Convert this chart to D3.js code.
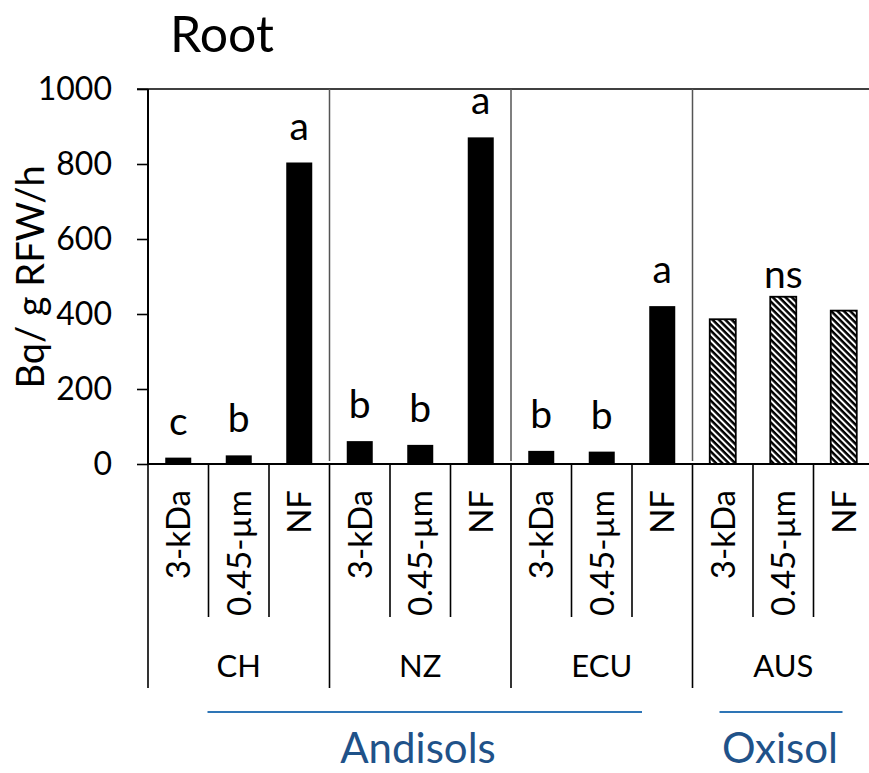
<!DOCTYPE html>
<html>
<head>
<meta charset="utf-8">
<script src="https://cdn.jsdelivr.net/npm/d3@7"></script>
<style>
  html, body { margin: 0; padding: 0; background: #fff; }
  svg { display: block; font-family: Lato, "Open Sans", sans-serif; }
</style>
</head>
<body>
<svg id="chart" width="869" height="773"></svg>
<script>
// ---- data ----
const groups = ["CH", "NZ", "ECU", "AUS"];
const filters = ["3-kDa", "0.45-µm", "NF"];
const valuesCH  = [17, 23, 804];
const valuesNZ  = [61, 51, 871];
const valuesECU = [35, 33, 421];
const valuesAUS = [386, 446, 409];
const lettersCH  = ["c", "b", "a"];
const lettersNZ  = ["b", "b", "a"];
const lettersECU = ["b", "b", "a"];
const lettersAUS = ["", "ns", ""];
const hatchedGroups = ["AUS"];
const yTicks = [0, 200, 400, 600, 800, 1000];
const soilOrders = ["Andisols", "Oxisol"];
const soilOrderGroups = [["CH", "NZ", "ECU"], ["AUS"]];
const title = "Root";
const yLabel = "Bq/ g RFW/h";

(function () {
const allValues = [valuesCH, valuesNZ, valuesECU, valuesAUS];
const allLetters = [lettersCH, lettersNZ, lettersECU, lettersAUS];
const rows = [];
groups.forEach((g, gi) => filters.forEach((f, fi) => rows.push({
  group: g, filter: f, key: g + "|" + f,
  value: allValues[gi][fi], letter: allLetters[gi][fi],
  hatched: hatchedGroups.includes(g)
})));

// ---- layout ----
const svg = d3.select("#chart");
const W = 869;
const mLeft = 148, bandW = 60.5;
const mTop = 89, mBottom = 464;
const x = d3.scaleBand().domain(rows.map(d => d.key)).range([mLeft, mLeft + bandW * rows.length]).padding(0);
const y = d3.scaleLinear().domain([0, 1000]).range([mBottom, mTop]);
const barW = 26;
const black = "#000";

// hatch pattern
const defs = svg.append("defs");
const pat = defs.append("pattern").attr("id", "hatch").attr("patternUnits", "userSpaceOnUse")
  .attr("width", 8).attr("height", 4.5).attr("patternTransform", "rotate(45)");
pat.append("rect").attr("width", 8).attr("height", 4.5).attr("fill", "#fff");
pat.append("rect").attr("y", 0).attr("width", 8).attr("height", 2.5).attr("fill", "#000");

// title
svg.append("text").attr("x", 170).attr("y", 52).attr("font-size", 50).attr("fill", black).text(title);

// y axis label
svg.append("text").attr("transform", "translate(44,277) rotate(-90)")
  .attr("text-anchor", "middle").attr("font-size", 38).attr("fill", black)
  .text(yLabel);

// top line at max
svg.append("line").attr("x1", mLeft - 11).attr("x2", W).attr("y1", y(1000)).attr("y2", y(1000))
  .attr("stroke", black).attr("stroke-width", 1.6);

// in-plot group separators
const groupStarts = groups.map(g => x(g + "|" + filters[0]));
groupStarts.slice(1).forEach(gx => {
  svg.append("line").attr("x1", gx).attr("x2", gx).attr("y1", y(1000)).attr("y2", mBottom - 3)
    .attr("stroke", "#555").attr("stroke-width", 1.5);
});

// bars
svg.append("g").selectAll("rect").data(rows).join("rect")
  .attr("x", d => x(d.key) + (x.bandwidth() - barW) / 2)
  .attr("width", barW)
  .attr("y", d => y(d.value))
  .attr("height", d => y(0) - y(d.value))
  .attr("fill", d => d.hatched ? "url(#hatch)" : black)
  .attr("stroke", black)
  .attr("stroke-width", d => d.hatched ? 1.8 : 0);

// significance letters
svg.append("g").selectAll("text").data(rows.filter(d => d.letter)).join("text")
  .attr("x", d => x(d.key) + x.bandwidth() / 2)
  .attr("y", d => y(d.value) - (d.hatched ? 9 : 23))
  .attr("text-anchor", "middle").attr("font-size", 39).attr("fill", black)
  .text(d => d.letter);

// y axis
const yAxis = d3.axisLeft(y).tickValues(yTicks).tickSize(11).tickPadding(25).tickFormat(d3.format("d"));
const gy = svg.append("g").attr("transform", `translate(${mLeft},0)`).call(yAxis);
gy.select(".domain").remove();
gy.selectAll(".tick line").attr("stroke", black).attr("stroke-width", 1.6);
gy.selectAll(".tick text").attr("font-size", 32).attr("font-family", "Lato, sans-serif").attr("fill", black);
svg.append("line").attr("x1", mLeft).attr("x2", mLeft).attr("y1", mTop).attr("y2", mBottom)
  .attr("stroke", black).attr("stroke-width", 2);

// x axis line
svg.append("line").attr("x1", mLeft).attr("x2", W).attr("y1", mBottom).attr("y2", mBottom)
  .attr("stroke", black).attr("stroke-width", 2);

// category separators below axis
rows.forEach((d, i) => {
  const xb = x(d.key);
  const isGroup = i % filters.length === 0;
  svg.append("line").attr("x1", xb).attr("x2", xb).attr("y1", mBottom).attr("y2", isGroup ? 688 : 617)
    .attr("stroke", black).attr("stroke-width", 1.6);
});
{
  const xe = x.range()[1];
  svg.append("line").attr("x1", xe).attr("x2", xe).attr("y1", mBottom).attr("y2", 688)
    .attr("stroke", black).attr("stroke-width", 1.6);
}

// rotated filter labels
const fsCat = 33;
svg.append("g").selectAll("text").data(rows).join("text")
  .attr("transform", d => `translate(${x(d.key) + x.bandwidth() / 2 + fsCat * 0.36},490) rotate(-90)`)
  .attr("text-anchor", "end").attr("font-size", fsCat).attr("fill", black)
  .text(d => d.filter);

// group labels
svg.append("g").selectAll("text").data(groups).join("text")
  .attr("x", g => x(g + "|" + filters[1]) + x.bandwidth() / 2)
  .attr("y", 677)
  .attr("text-anchor", "middle").attr("font-size", 31).attr("fill", black)
  .text(g => g);

// soil order lines and labels
const lineCol = "#2E75B6", textCol = "#1F5289";
const soilSpans = [
  [x(soilOrderGroups[0][0] + "|" + filters[1]) - 1, x(soilOrderGroups[0][2] + "|" + filters[2]) + 10],
  [x(soilOrderGroups[1][0] + "|" + filters[0]) + 27, x(soilOrderGroups[1][0] + "|" + filters[2]) + 29]
];
const soilTextX = [418, 780];
soilOrders.forEach((s, i) => {
  svg.append("line").attr("x1", soilSpans[i][0]).attr("x2", soilSpans[i][1]).attr("y1", 712).attr("y2", 712)
    .attr("stroke", lineCol).attr("stroke-width", 2.2);
  svg.append("text").attr("x", soilTextX[i]).attr("y", 763).attr("text-anchor", "middle")
    .attr("font-size", 42).attr("fill", textCol).text(s);
});
})();
</script>
</body>
</html>
